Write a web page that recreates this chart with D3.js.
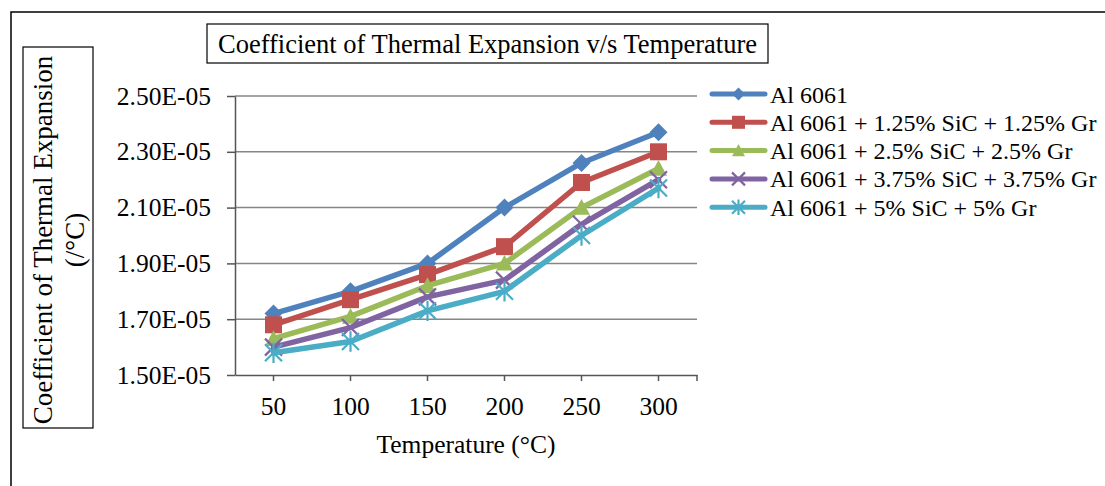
<!DOCTYPE html>
<html>
<head>
<meta charset="utf-8">
<script src="https://cdn.jsdelivr.net/npm/d3@7"></script>
<style>
  html, body { margin: 0; padding: 0; background: #fff; }
  svg { display: block; }
  text { font-family: "Liberation Serif", "Times New Roman", serif; fill: #000; }
</style>
</head>
<body>
<svg id="chart" width="1105" height="486"></svg>
<script>
// Temperature categories (°C)
const categories = [50, 100, 150, 200, 250, 300];

// Coefficient of thermal expansion (/°C) for each material
const seriesNames = [
  "Al 6061",
  "Al 6061 + 1.25% SiC + 1.25% Gr",
  "Al 6061 + 2.5% SiC + 2.5% Gr",
  "Al 6061 + 3.75% SiC + 3.75% Gr",
  "Al 6061 + 5% SiC + 5% Gr"
];
const al6061      = [1.72e-5, 1.80e-5, 1.90e-5, 2.10e-5, 2.26e-5, 2.37e-5];
const sic125gr125 = [1.68e-5, 1.77e-5, 1.86e-5, 1.96e-5, 2.19e-5, 2.30e-5];
const sic25gr25   = [1.63e-5, 1.71e-5, 1.82e-5, 1.90e-5, 2.10e-5, 2.24e-5];
const sic375gr375 = [1.60e-5, 1.67e-5, 1.78e-5, 1.84e-5, 2.04e-5, 2.20e-5];
const sic5gr5     = [1.58e-5, 1.62e-5, 1.73e-5, 1.80e-5, 2.00e-5, 2.17e-5];

const yTicks = [1.5e-5, 1.7e-5, 1.9e-5, 2.1e-5, 2.3e-5, 2.5e-5];
const yTickLabels = ["1.50E-05", "1.70E-05", "1.90E-05", "2.10E-05", "2.30E-05", "2.50E-05"];

const seriesValues = [al6061, sic125gr125, sic25gr25, sic375gr375, sic5gr5];
const colors = ["#4F81BD", "#C0504D", "#9BBB59", "#8064A2", "#4BACC6"];
const markers = ["diamond", "square", "triangle", "x", "star"];

const svg = d3.select("#chart");

// Outer chart frame
svg.append("path")
  .attr("d", "M11,486 L11,12 L1105,12")
  .attr("fill", "none").attr("stroke", "#000").attr("stroke-width", 1.5);

const plot = { left: 235, right: 697, top: 96, bottom: 375 };

const x = d3.scaleBand().domain(categories).range([plot.left, plot.right]);
const y = d3.scaleLinear().domain([1.5e-5, 2.5e-5]).range([plot.bottom, plot.top]);

// Horizontal gridlines
svg.append("g").selectAll("line")
  .data(yTicks.slice(1))
  .join("line")
  .attr("x1", plot.left).attr("x2", plot.right)
  .attr("y1", d => y(d)).attr("y2", d => y(d))
  .attr("stroke", "#868686").attr("stroke-width", 1.5);

// Y axis
const yAxis = svg.append("g")
  .attr("transform", `translate(${plot.left},0)`)
  .call(d3.axisLeft(y).tickValues(yTicks)
    .tickFormat((d, i) => yTickLabels[i])
    .tickSize(8).tickSizeOuter(0).tickPadding(16));
yAxis.select(".domain").attr("stroke", "#555").attr("stroke-width", 1.5);
yAxis.selectAll(".tick line").attr("stroke", "#555").attr("stroke-width", 1.5);
yAxis.selectAll(".tick text").attr("font-size", 25.5).attr("fill", "#000");

// X axis
const xAxis = svg.append("g")
  .attr("transform", `translate(0,${plot.bottom})`)
  .call(d3.axisBottom(x).tickSize(6).tickSizeOuter(0).tickPadding(16));
xAxis.select(".domain").attr("stroke", "#555").attr("stroke-width", 1.5);
xAxis.selectAll(".tick line").attr("stroke", "#555").attr("stroke-width", 1.5);
xAxis.selectAll(".tick text").attr("font-size", 25.5).attr("fill", "#000");
xAxis.append("line")
  .attr("x1", plot.right).attr("x2", plot.right)
  .attr("y1", 0).attr("y2", 6)
  .attr("stroke", "#555").attr("stroke-width", 1.5);

// Marker shapes
function drawMarker(g, type, color, s) {
  const h = s / 2;
  if (type === "diamond") {
    g.append("path").attr("d", `M0,${-h} L${h},0 L0,${h} L${-h},0 Z`).attr("fill", color);
  } else if (type === "square") {
    g.append("rect").attr("x", -h).attr("y", -h).attr("width", s).attr("height", s).attr("fill", color);
  } else if (type === "triangle") {
    g.append("path").attr("d", `M0,${-h} L${h},${h * 0.85} L${-h},${h * 0.85} Z`).attr("fill", color);
  } else if (type === "x") {
    g.append("path").attr("d", `M${-h},${-h} L${h},${h} M${-h},${h} L${h},${-h}`)
      .attr("stroke", color).attr("stroke-width", 2.2).attr("fill", "none");
  } else if (type === "star") {
    g.append("path").attr("d", `M${-h},${-h} L${h},${h} M${-h},${h} L${h},${-h} M0,${-h * 1.2} L0,${h * 1.2}`)
      .attr("stroke", color).attr("stroke-width", 2.2).attr("fill", "none");
  }
}

const line = d3.line()
  .x((d, i) => x(categories[i]) + x.bandwidth() / 2)
  .y(d => y(d));

seriesValues.forEach((vals, si) => {
  const g = svg.append("g");
  g.append("path")
    .datum(vals)
    .attr("d", line)
    .attr("fill", "none")
    .attr("stroke", colors[si])
    .attr("stroke-width", 5.5)
    .attr("stroke-linejoin", "round")
    .attr("stroke-linecap", "round");
  vals.forEach((v, i) => {
    const m = g.append("g")
      .attr("transform", `translate(${x(categories[i]) + x.bandwidth() / 2},${y(v)})`);
    drawMarker(m, markers[si], colors[si], si === 0 ? 18 : 17);
  });
});

// Title
svg.append("rect")
  .attr("x", 207).attr("y", 24).attr("width", 561).attr("height", 39)
  .attr("fill", "#fff").attr("stroke", "#000").attr("stroke-width", 1.2);
svg.append("text")
  .attr("x", 487.5).attr("y", 53)
  .attr("text-anchor", "middle")
  .attr("font-size", 26.5)
  .text("Coefficient of Thermal Expansion v/s Temperature");

// Y axis title
svg.append("rect")
  .attr("x", 23).attr("y", 47).attr("width", 70).attr("height", 381)
  .attr("fill", "#fff").attr("stroke", "#000").attr("stroke-width", 1.2);
const yt = svg.append("text")
  .attr("transform", "translate(0,240) rotate(-90)")
  .attr("text-anchor", "middle")
  .attr("font-size", 27);
yt.append("tspan").attr("x", 0).attr("y", 52).text("Coefficient of Thermal Expansion");
yt.append("tspan").attr("x", 0).attr("y", 84).text("(/°C)");

// X axis title
svg.append("text")
  .attr("x", 466).attr("y", 453)
  .attr("text-anchor", "middle")
  .attr("font-size", 25.5)
  .text("Temperature (°C)");

// Legend
const legend = svg.append("g");
seriesNames.forEach((name, i) => {
  const cy = 94 + i * 28.3;
  const row = legend.append("g").attr("transform", `translate(0,${cy})`);
  row.append("line")
    .attr("x1", 712).attr("x2", 765).attr("y1", 0).attr("y2", 0)
    .attr("stroke", colors[i]).attr("stroke-width", 5).attr("stroke-linecap", "round");
  const m = row.append("g").attr("transform", "translate(738.5,0)");
  drawMarker(m, markers[i], colors[i], 13);
  row.append("text")
    .attr("x", 770).attr("y", 8.5)
    .attr("font-size", 24)
    .text(name);
});
</script>
</body>
</html>
